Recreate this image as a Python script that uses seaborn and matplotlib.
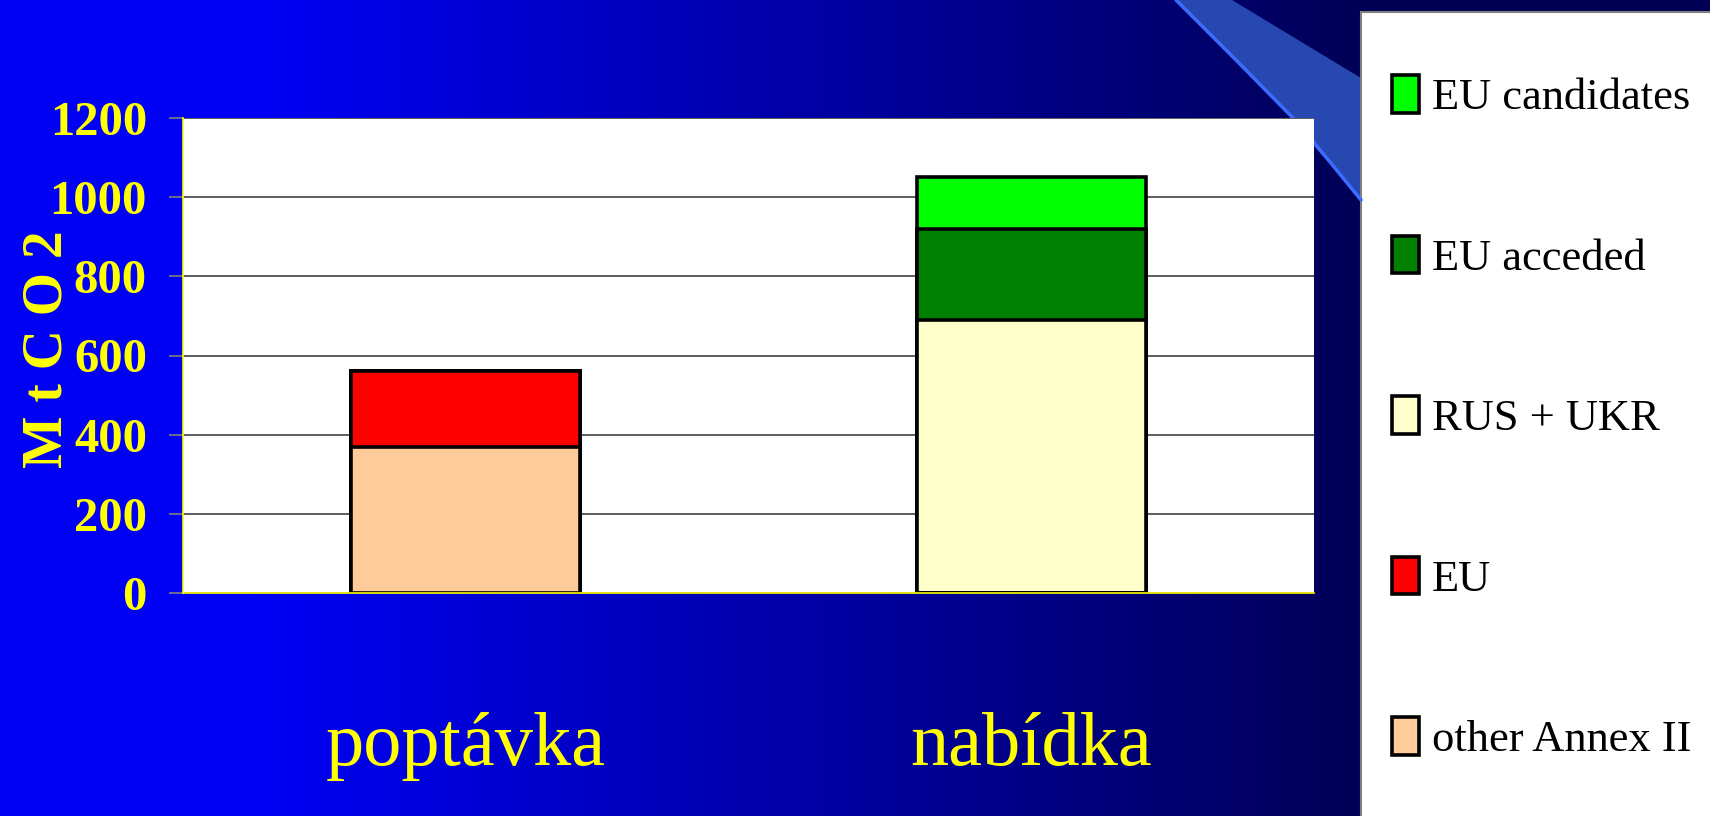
import numpy as np
import pandas as pd
import seaborn as sns
import matplotlib.pyplot as plt
from matplotlib.patches import Patch, Polygon, Rectangle

# data (Mt CO2)
categories = ["poptávka", "nabídka"]
other_annex = [370, 0]
eu = [190, 0]
rus_ukr = [0, 690]
eu_acceded = [0, 230]
eu_candidates = [0, 130]

series_names = ["other Annex II", "EU", "RUS + UKR", "EU acceded", "EU candidates"]
series_colors = ["#FFCC99", "#FF0000", "#FFFFCC", "#008000", "#00FF00"]
y_ticks = [0, 200, 400, 600, 800, 1000, 1200]

sns.set_style("white")
plt.rcParams["font.family"] = ["Liberation Serif", "DejaVu Serif"]

W, H = 1710, 816
fig = plt.figure(figsize=(W / 100, H / 100), dpi=100)

# slide background: blue gradient + the light swoosh top right
bg = fig.add_axes([0, 0, 1, 1], zorder=-10)
xs = np.linspace(0, 1, 800)
t = np.clip((xs - 0.15) / (0.80 - 0.15), 0, 1)
grad = np.zeros((2, len(xs), 3))
grad[..., 2] = (245 - t * (245 - 85)) / 255
bg.imshow(grad, extent=[0, W, H, 0], aspect="auto")
bg.add_patch(Polygon([(1176, 0), (1232, 0), (1361, 78), (1361, 200), (1330, 162),
                      (1293, 118), (1236, 60)], closed=True, facecolor="#2648B0", lw=0))
bg.plot([1176, 1236, 1293, 1330, 1361], [0, 60, 118, 162, 200], color="#3A6CFF", lw=2.5)
bg.add_patch(Rectangle((1361, 12), 400, 900, facecolor="white", edgecolor="#808080", lw=1.5))
bg.set_xlim(0, W)
bg.set_ylim(H, 0)
bg.axis("off")

ax = fig.add_axes([183 / W, 1 - 593 / H, (1314 - 183) / W, (593 - 118) / H])
ax.set_facecolor("white")
ax.set_axisbelow(True)

# stacked bars: draw cumulative totals from the top layer down
stack = np.cumsum([other_annex, eu, rus_ukr, eu_acceded, eu_candidates], axis=0)
for name, color, tops in reversed(list(zip(series_names, series_colors, stack))):
    df = pd.DataFrame({"category": categories, "value": tops})
    sns.barplot(data=df, x="category", y="value", color=color, saturation=1,
                width=0.405, edgecolor="black", linewidth=2.6, errorbar=None, ax=ax)

ax.set_xlim(-0.5, 1.5)
ax.set_ylim(0, 1200)
ax.set_yticks(y_ticks)
ax.yaxis.grid(True, color="#505050", lw=1.3)
ax.xaxis.grid(False)
ax.set_xticks([0, 1])
ax.set_xticklabels(categories)
ax.set_xticks([-0.5, 0.5, 1.5], minor=True)
ax.tick_params(axis="x", which="major", length=0, pad=86, labelsize=55, labelcolor="yellow")
ax.tick_params(axis="x", which="minor", length=21.6, width=1.2, color="#d0d0b0", direction="out")
ax.tick_params(axis="y", length=10, width=1.2, color="#808080", pad=16, labelsize=35,
               labelcolor="yellow", direction="out", left=True)
for lab in ax.get_yticklabels():
    lab.set_fontweight("bold")
for s in ["top", "right"]:
    ax.spines[s].set_visible(False)
for s in ["left", "bottom"]:
    ax.spines[s].set_visible(True)
    ax.spines[s].set_color("yellow")
    ax.spines[s].set_linewidth(1.2)

ax.set_xlabel("")
ax.set_ylabel("M t C O 2", fontsize=40, fontweight="bold", color="yellow")
ax.yaxis.set_label_coords(-0.0964, 0.514)

handles = [Patch(facecolor=c, edgecolor="black", linewidth=2.6, label=n)
           for n, c in zip(series_names, series_colors)][::-1]
fig.legend(handles=handles, loc="upper left", bbox_to_anchor=(1392 / W, 1 - 75 / H),
           frameon=False, fontsize=32, labelcolor="black", handlelength=0.6,
           handleheight=0.93, handletextpad=0.3, labelspacing=2.64,
           borderaxespad=0, borderpad=0)

fig.savefig("out.png", dpi=100)
